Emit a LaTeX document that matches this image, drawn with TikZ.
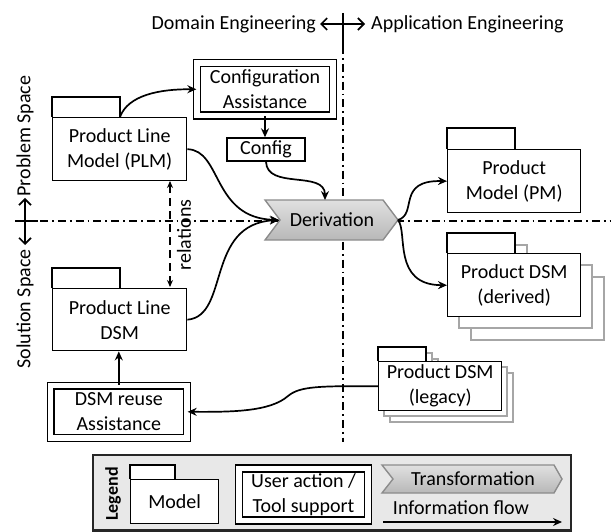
\documentclass[tikz,border=0pt]{standalone}
\usepackage{fontspec}
\setmainfont{Carlito}
\usetikzlibrary{arrows.meta,calc}

\tikzset{
  txt/.style={font=\fontsize{20}{25}\selectfont, align=center, inner sep=0pt},
  body/.style={draw, line width=1.4pt, fill=white, anchor=north west, inner sep=0pt,
               font=\fontsize{20}{25}\selectfont, align=center},
  tabbox/.style={draw, line width=1.4pt, fill=white},
  ghost/.style={draw=black!35, line width=1.4pt, fill=white},
  dbl/.style={draw, line width=1.3pt, double, double distance=5.5pt, fill=white,
              inner sep=0pt, font=\fontsize{20}{25}\selectfont, align=center},
  plain/.style={draw, line width=1.4pt, fill=white, inner sep=0pt,
                font=\fontsize{20}{25}\selectfont, align=center},
  chev/.style={draw=black!45, line width=1.4pt, top color=black!12, bottom color=black!28},
  flow/.style={line width=1.7pt, -{Stealth[length=9pt,width=8pt,inset=3pt]}},
  divider/.style={line width=1.5pt, dash pattern=on 8pt off 4pt on 1.8pt off 4pt},
  rel/.style={line width=1.4pt, dash pattern=on 8pt off 5pt,
              {Stealth[length=7pt,width=6pt]}-{Stealth[length=7pt,width=6pt]}},
  biarrow/.style={line width=1.6pt, {Straight Barb[length=6pt,width=12pt]}-{Straight Barb[length=6pt,width=12pt]}},
}

\begin{document}
\begin{tikzpicture}[x=1pt,y=-1pt]
\useasboundingbox (0,0) rectangle (611,532);

% ---- dividers between the four quadrants
\draw[line width=1.5pt] (343,13) -- (343,46);
\draw[divider] (343,46) -- (343,442);
\draw[line width=1.5pt] (15,221) -- (38,221);
\draw[divider] (40,221) -- (611,221);
\draw[biarrow] (320,24) -- (365,24);
\draw[biarrow] (25,198) -- (25,245);

\node[txt, anchor=east] (de) at (316,24) {Domain Engineering};
\node[txt, anchor=west] (ae) at (371,24) {Application Engineering};
\node[txt, rotate=90] (ps) at (25,136) {Problem Space};
\node[txt, rotate=90] (ss) at (25,309) {Solution Space};

% ---- product line model
\node[body, minimum width=134pt, minimum height=63pt] (plm) at (52,117) {Product Line\\Model (PLM)};
\draw[tabbox] (plm.north west) -- ++(0,-20) -- ++(68,0) -- ++(0,20);
\coordinate (plmtab) at ($(plm.north west)+(68,0)$);

% ---- product line DSM
\node[body, minimum width=134pt, minimum height=62pt] (pld) at (52,288) {Product Line\\DSM};
\draw[tabbox] (pld.north west) -- ++(0,-20) -- ++(68,0) -- ++(0,20);

% ---- assistance boxes
\node[dbl, minimum width=136pt, minimum height=52.5pt] (ca) at (265,89.3) {Configuration\\Assistance};
\node[plain, minimum width=78pt, minimum height=23pt] (cfg) at (266,149.5) {Config};
\node[dbl, minimum width=136.5pt, minimum height=52.5pt] (dra) at (118.8,411.8) {DSM reuse\\Assistance};

% ---- derivation
\draw[chev] (265,200) -- (383,200) -- (398,220) -- (383,240) -- (265,240) -- (280,220) -- cycle;
\node[txt] (der) at (332,220) {Derivation};
\coordinate (derin) at (279,220);
\coordinate (derout) at (398,220);
\coordinate (dertop) at (325,200);

% ---- product model
\node[body, minimum width=133pt, minimum height=63pt] (pm) at (447,149) {Product\\Model (PM)};
\draw[tabbox] (pm.north west) -- ++(0,-21) -- ++(68,0) -- ++(0,21);

% ---- derived product DSMs (stack)
\draw[ghost] (471,257) rectangle ++(68,20);
\draw[ghost] (471,277) rectangle ++(133,63);
\draw[ghost] (459,245) rectangle ++(68,20);
\draw[ghost] (459,265) rectangle ++(133,63);
\node[body, minimum width=133pt, minimum height=63pt] (pdd) at (447,253) {Product DSM\\(derived)};
\draw[tabbox] (pdd.north west) -- ++(0,-20) -- ++(68,0) -- ++(0,20);

% ---- legacy product DSMs (stack)
\draw[ghost] (390,359) rectangle ++(48,14);
\draw[ghost] (390,373) rectangle ++(123,49);
\draw[ghost] (384,353) rectangle ++(48,14);
\draw[ghost] (384,367) rectangle ++(123,49);
\node[body, minimum width=123pt, minimum height=49pt] (pdl) at (378,361) {Product DSM\\(legacy)};
\draw[tabbox] (pdl.north west) -- ++(0,-14) -- ++(48,0) -- ++(0,14);

% ---- information flow
\draw[flow] (plmtab) .. controls (128,95) and (160,89) .. (ca.west);
\draw[flow] (ca.south) -- (ca.south |- cfg.north);
\draw[flow] (plm.east) .. controls (222,150) and (212,218) .. (derin);
\draw[flow] (pld.east) .. controls (230,316) and (205,224) .. (derin);
\draw[flow] (cfg.south) .. controls (267,190) and (325,170) .. (dertop);
\draw[flow] (derout) .. controls (418,214) and (396,180) .. (pm.west);
\draw[flow] (derout) .. controls (408,232) and (392,285) .. (pdd.west);
\draw[flow] (pdl.west) .. controls (320,386) and (300,386) .. (288,396)
            .. controls (270,412) and (230,412) .. (dra.east);
\draw[flow] (dra.north) -- (dra.north |- pld.south);
\draw[rel] (170,181) -- (170,287);
\node[txt, rotate=90] (rl) at (184,235) {relations};

% ---- legend
\draw[line width=2.2pt, draw=black!85, fill=black!9] (93,455) rectangle (571,530.5);
\node[txt, rotate=90, font=\fontsize{18}{22}\bfseries] (lg) at (113,494) {Legend};
\node[body, minimum width=88pt, minimum height=44pt] (lm) at (130,479) {Model};
\draw[tabbox] (lm.north west) -- ++(0,-14) -- ++(45,0) -- ++(0,14);
\node[dbl, minimum width=129pt, minimum height=52pt] (lu) at (303.5,494.5) {User action /\\Tool support};
\draw[chev] (382,465) -- (554,465) -- (562,479) -- (554,493) -- (382,493) -- (393,479) -- cycle;
\node[txt] (lt) at (473,479) {Transformation};
\node[txt] (lf) at (461,508) {Information flow};
\coordinate (lfa) at (383,522);
\coordinate (lfb) at (562,522);
\draw[flow] (lfa) -- (lfb);
\end{tikzpicture}
\end{document}
